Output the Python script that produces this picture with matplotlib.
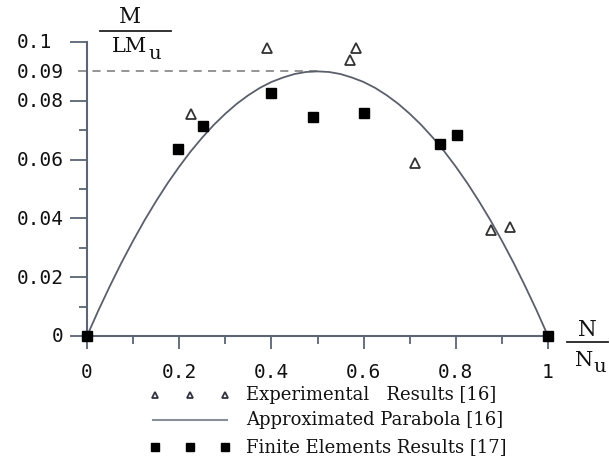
import matplotlib
matplotlib.use("Agg")
import matplotlib.pyplot as plt
from matplotlib.lines import Line2D
from matplotlib.transforms import blended_transform_factory

# ---------------- data ----------------
exp_n = [0.226, 0.390, 0.570, 0.583, 0.711, 0.876, 0.918]
exp_m = [0.0755, 0.098, 0.094, 0.098, 0.059, 0.036, 0.037]

fe_n = [0.0, 0.198, 0.252, 0.399, 0.490, 0.601, 0.766, 0.803, 1.0]
fe_m = [0.0, 0.0636, 0.0715, 0.0827, 0.0745, 0.076, 0.0653, 0.0684, 0.0]

curve_n = [0, 0.025, 0.05, 0.075, 0.1, 0.125, 0.15, 0.175, 0.2, 0.225, 0.25,
           0.275, 0.3, 0.325, 0.35, 0.375, 0.4, 0.425, 0.45, 0.475, 0.5,
           0.525, 0.55, 0.575, 0.6, 0.625, 0.65, 0.675, 0.7, 0.725, 0.75,
           0.775, 0.8, 0.825, 0.85, 0.875, 0.9, 0.925, 0.95, 0.975, 1.0]
curve_m = [0, 0.0088, 0.0171, 0.0250, 0.0324, 0.0394, 0.0459, 0.0520, 0.0576, 0.0628, 0.0675,
           0.0718, 0.0756, 0.0790, 0.0819, 0.0844, 0.0864, 0.0879, 0.0891, 0.0898, 0.0900,
           0.0898, 0.0891, 0.0879, 0.0864, 0.0844, 0.0819, 0.0790, 0.0756, 0.0718, 0.0675,
           0.0628, 0.0576, 0.0520, 0.0459, 0.0394, 0.0324, 0.0250, 0.0171, 0.0088, 0]

peak_n = [-0.02, 0.5]
peak_m = [0.09, 0.09]

x_ticks = [0, 0.2, 0.4, 0.6, 0.8, 1]
x_labels = ["0", "0.2", "0.4", "0.6", "0.8", "1"]
y_ticks = [0, 0.02, 0.04, 0.06, 0.08, 0.09, 0.1]
y_labels = ["0", "0.02", "0.04", "0.06", "0.08", "0.09", "0.1"]

legend_labels = ["Experimental   Results [16]", "Approximated Parabola [16]",
                 "Finite Elements Results [17]"]

# ---------------- figure ----------------
W, H = 610, 477
fig = plt.figure(figsize=(W / 100, H / 100), dpi=100)

def fx(x):
    return x / W

def fy(y):
    return 1 - y / H

# axes placement: data x 0->87px, 1->548px ; y 0->337px, 0.1->43px
xmin, xmax = -0.05, 1.05
ymin, ymax = -0.01, 0.105
px0, px1 = 87, 548
py0, py1 = 337, 43
left = px0 + xmin * (px1 - px0)
right = px0 + xmax * (px1 - px0)
bottom = py0 + (-ymin / 0.1) * (py0 - py1)
top = py0 - (ymax / 0.1) * (py0 - py1)
ax = fig.add_axes([fx(left), fy(bottom), fx(right - left), (bottom - top) / H])
ax.set_xlim(xmin, xmax)
ax.set_ylim(ymin, ymax)

axcol = "#5d6473"
for s in ["top", "right"]:
    ax.spines[s].set_visible(False)
ax.spines["left"].set_position(("data", 0))
ax.spines["bottom"].set_position(("data", 0))
ax.spines["left"].set_bounds(0, 0.1)
ax.spines["bottom"].set_bounds(0, 1)
for s in ["left", "bottom"]:
    ax.spines[s].set_color(axcol)
    ax.spines[s].set_linewidth(1.5)

ax.set_xticks(x_ticks)
ax.set_xticks([0.1, 0.3, 0.5, 0.7, 0.9], minor=True)
ax.set_yticks([0, 0.02, 0.04, 0.06, 0.08, 0.1])
ax.set_yticks([0.01, 0.03, 0.05, 0.07], minor=True)
ax.set_xticklabels([])
ax.set_yticklabels([])
ax.tick_params(axis="y", which="major", direction="out", length=12, width=1.3, color=axcol)
ax.tick_params(axis="y", which="minor", direction="out", length=6, width=1.3, color=axcol)
ax.tick_params(axis="x", which="major", direction="out", length=9.5, width=1.3, color=axcol)
ax.tick_params(axis="x", which="minor", direction="out", length=5.5, width=1.3, color=axcol)

tick_font = dict(family="DejaVu Sans Mono", fontsize=14, color="#111111")
# y labels
ytr = blended_transform_factory(fig.transFigure, ax.transData)
for v, lab in zip(y_ticks, y_labels):
    if lab == "0":
        ax.text(fx(63), v, lab, transform=ytr, ha="right", va="center", **tick_font)
    else:
        ax.text(fx(17), v, lab, transform=ytr, ha="left", va="center", **tick_font)
# x labels
xtr = blended_transform_factory(ax.transData, fig.transFigure)
for v, lab in zip(x_ticks, x_labels):
    ax.text(v, fy(372), lab, transform=xtr, ha="center", va="center", **tick_font)

# ---------------- marks ----------------
ax.plot(peak_n, peak_m, ls=(0, (4.5, 3.5)), color="#8c8c8c", lw=1.3, clip_on=False)
ax.plot(curve_n, curve_m, color="#5a5f6b", lw=1.3, clip_on=False)
ax.plot(exp_n, exp_m, ls="none", marker="^", ms=6.5, mfc="white", mec="#333333",
        mew=1.3, clip_on=False)
ax.plot(fe_n, fe_m, ls="none", marker="s", ms=7, mfc="black", mec="black",
        clip_on=False, zorder=5)

# ---------------- axis labels (fractions) ----------------
serif = dict(family="DejaVu Serif", color="#111111")
fig.text(fx(130), fy(17), "M", ha="center", va="center", fontsize=15.5, **serif)
fig.add_artist(Line2D([fx(100), fx(171)], [fy(32), fy(32)], color="#222222", lw=1.3))
fig.text(fx(129), fy(47), "LM", ha="center", va="center", fontsize=15, **serif)
fig.text(fx(148), fy(54), "u", ha="left", va="center", fontsize=14, **serif)

fig.text(fx(587), fy(330), "N", ha="center", va="center", fontsize=15.5, **serif)
fig.add_artist(Line2D([fx(567), fx(608)], [fy(343), fy(343)], color="#222222", lw=1.3))
fig.text(fx(584), fy(360), "N", ha="center", va="center", fontsize=15, **serif)
fig.text(fx(593), fy(367), "u", ha="left", va="center", fontsize=14, **serif)

# ---------------- legend ----------------
mx = [155, 190, 225]
rows = [396, 421, 448]
fig.add_artist(Line2D([fx(x) for x in mx], [fy(rows[0])] * 3, ls="none", marker="^",
                      ms=5, mfc="white", mec="#333344", mew=1.3))
fig.add_artist(Line2D([fx(153), fx(227)], [fy(rows[1])] * 2, color="#8a8e98", lw=1.5))
fig.add_artist(Line2D([fx(x) for x in mx], [fy(rows[2])] * 3, ls="none", marker="s",
                      ms=6, mfc="black", mec="black"))
for r, lab in zip(rows, legend_labels):
    fig.text(fx(246), fy(r - 1), lab, ha="left", va="center", fontsize=13, **serif)

fig.savefig("out.png", dpi=100, facecolor="white")
